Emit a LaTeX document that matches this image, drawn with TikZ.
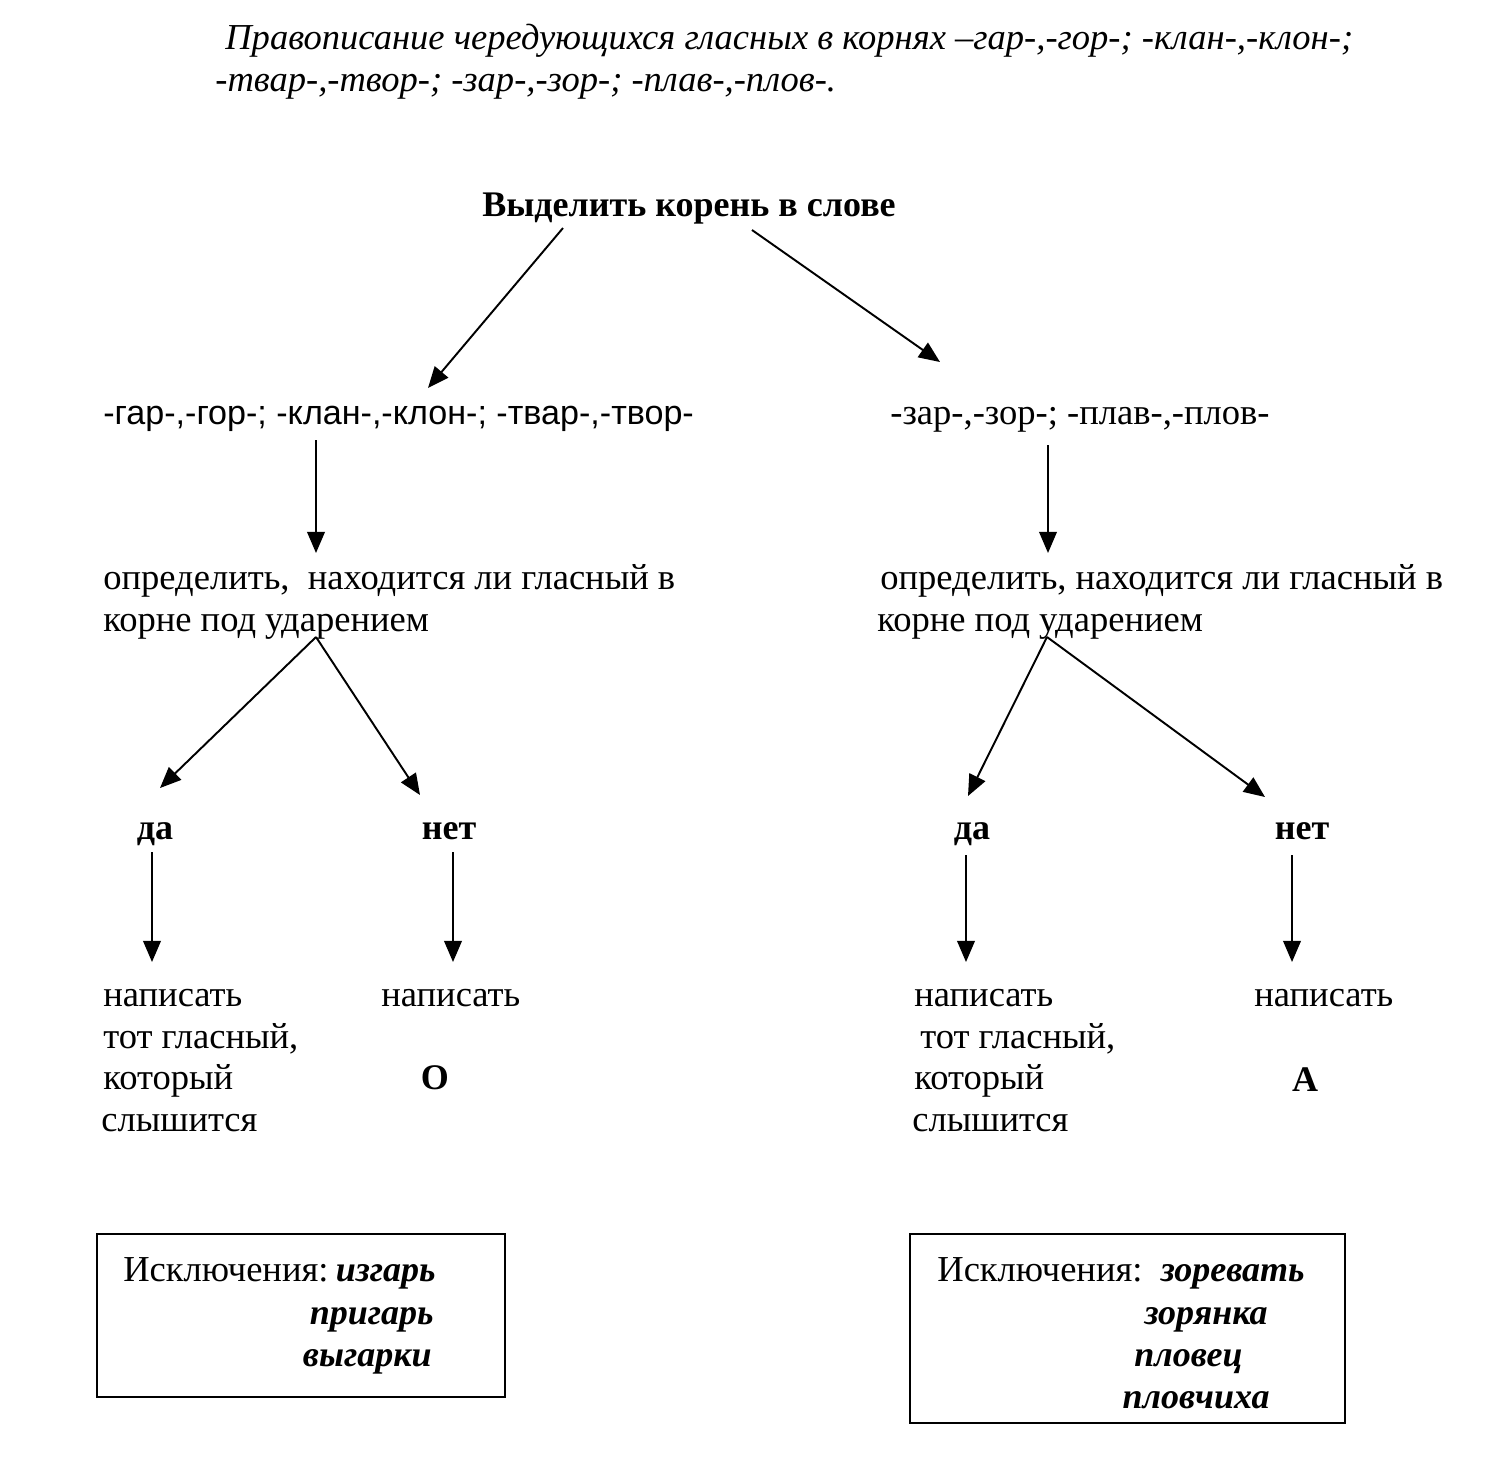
\documentclass[tikz,border=0pt]{standalone}
\usepackage{fontspec}
\setmainfont{Liberation Serif}
\newfontfamily\arialf{Liberation Sans}
\usetikzlibrary{arrows.meta}
\tikzset{
  base/.style={inner sep=0pt, text height=15.5pt, text depth=2.5pt},
  txt/.style={base, anchor=west, font=\fontsize{20.8}{24}\selectfont},
  sanstxt/.style={base, anchor=west, font=\arialf\fontsize{19.4}{24}\selectfont},
  boldtxt/.style={base, font=\bfseries\fontsize{20.5}{24}\selectfont},
  ttl/.style={base, anchor=west, font=\itshape\fontsize{20.8}{24}\selectfont},
  exw/.style={base, anchor=east, font=\bfseries\itshape\fontsize{20.5}{24}\selectfont},
  arr/.style={line width=1.1pt, -{Triangle[length=12pt,width=10pt]}},
  exbox/.style={draw, line width=1.1pt, inner sep=0pt}
}
\begin{document}
\begin{tikzpicture}[x=0.02cm,y=-0.02cm]
\useasboundingbox (0,0) rectangle (1500,1472);
% title
\node[ttl] (t1) at (225,38) {Правописание чередующихся гласных в корнях –гар-,-гор-; -клан-,-клон-;};
\node[ttl] (t2) at (215,80) {-твар-,-твор-; -зар-,-зор-; -плав-,-плов-.};
% head
\node[boldtxt] (head) at (689,205) {Выделить корень в слове};
% roots
\node[sanstxt] (rootL) at (103,413) {-гар-,-гор-; -клан-,-клон-; -твар-,-твор-};
\node[txt] (rootR) at (890,413) {-зар-,-зор-; -плав-,-плов-};
% question
\node[txt] (qL1) at (103,578) {определить,\ \ находится ли гласный в};
\node[txt] (qL2) at (103,620) {корне под ударением};
\node[txt] (qR1) at (880,578) {определить, находится ли гласный в};
\node[txt] (qR2) at (877,620) {корне под ударением};
% yes/no
\node[boldtxt] (yesL) at (155,828) {да};
\node[boldtxt] (noL) at (449,828) {нет};
\node[boldtxt] (yesR) at (972,828) {да};
\node[boldtxt] (noR) at (1302,828) {нет};
% results left
\node[txt] (aL1) at (103,995) {написать};
\node[txt] (aL2) at (103,1037) {тот гласный,};
\node[txt] (aL3) at (103,1078) {который};
\node[txt] (aL4) at (101,1120) {слышится};
\node[txt] (bL1) at (381,995) {написать};
\node[boldtxt] (bL2) at (435,1078) {О};
% results right
\node[txt] (aR1) at (914,995) {написать};
\node[txt] (aR2) at (920,1037) {тот гласный,};
\node[txt] (aR3) at (914,1078) {который};
\node[txt] (aR4) at (912,1120) {слышится};
\node[txt] (bR1) at (1254,995) {написать};
\node[boldtxt] (bR2) at (1305,1080) {А};
% exception boxes
\draw[exbox] (97,1234) rectangle (505,1397);
\node[txt] (eL0) at (123,1270) {Исключения:};
\node[exw] (eL1) at (436,1270) {изгарь};
\node[exw] (eL2) at (434,1313) {пригарь};
\node[exw] (eL3) at (432,1355) {выгарки};
\draw[exbox] (910,1234) rectangle (1345,1423);
\node[txt] (eR0) at (937,1270) {Исключения:};
\node[exw] (eR1) at (1305,1270) {зоревать};
\node[exw] (eR2) at (1268,1313) {зорянка};
\node[exw] (eR3) at (1243,1355) {пловец};
\node[exw] (eR4) at (1270,1397) {пловчиха};
% arrow end points
\coordinate (h1) at (563,228);
\coordinate (h1e) at (428,388);
\coordinate (h2) at (752,230);
\coordinate (h2e) at (940,362);
\coordinate (rL) at (316,440);
\coordinate (rLe) at (316,553);
\coordinate (rR) at (1048,445);
\coordinate (rRe) at (1048,553);
\coordinate (qL) at (316,637);
\coordinate (qLy) at (160,788);
\coordinate (qLn) at (420,795);
\coordinate (qR) at (1047,637);
\coordinate (qRy) at (968,796);
\coordinate (qRn) at (1265,797);
\coordinate (yL) at (152,852);
\coordinate (yLe) at (152,962);
\coordinate (nL) at (453,852);
\coordinate (nLe) at (453,962);
\coordinate (yR) at (966,855);
\coordinate (yRe) at (966,962);
\coordinate (nR) at (1292,855);
\coordinate (nRe) at (1292,962);
\draw[arr] (h1) -- (h1e);
\draw[arr] (h2) -- (h2e);
\draw[arr] (rL) -- (rLe);
\draw[arr] (rR) -- (rRe);
\draw[arr] (qL) -- (qLy);
\draw[arr] (qL) -- (qLn);
\draw[arr] (qR) -- (qRy);
\draw[arr] (qR) -- (qRn);
\draw[arr] (yL) -- (yLe);
\draw[arr] (nL) -- (nLe);
\draw[arr] (yR) -- (yRe);
\draw[arr] (nR) -- (nRe);
\end{tikzpicture}
\end{document}
